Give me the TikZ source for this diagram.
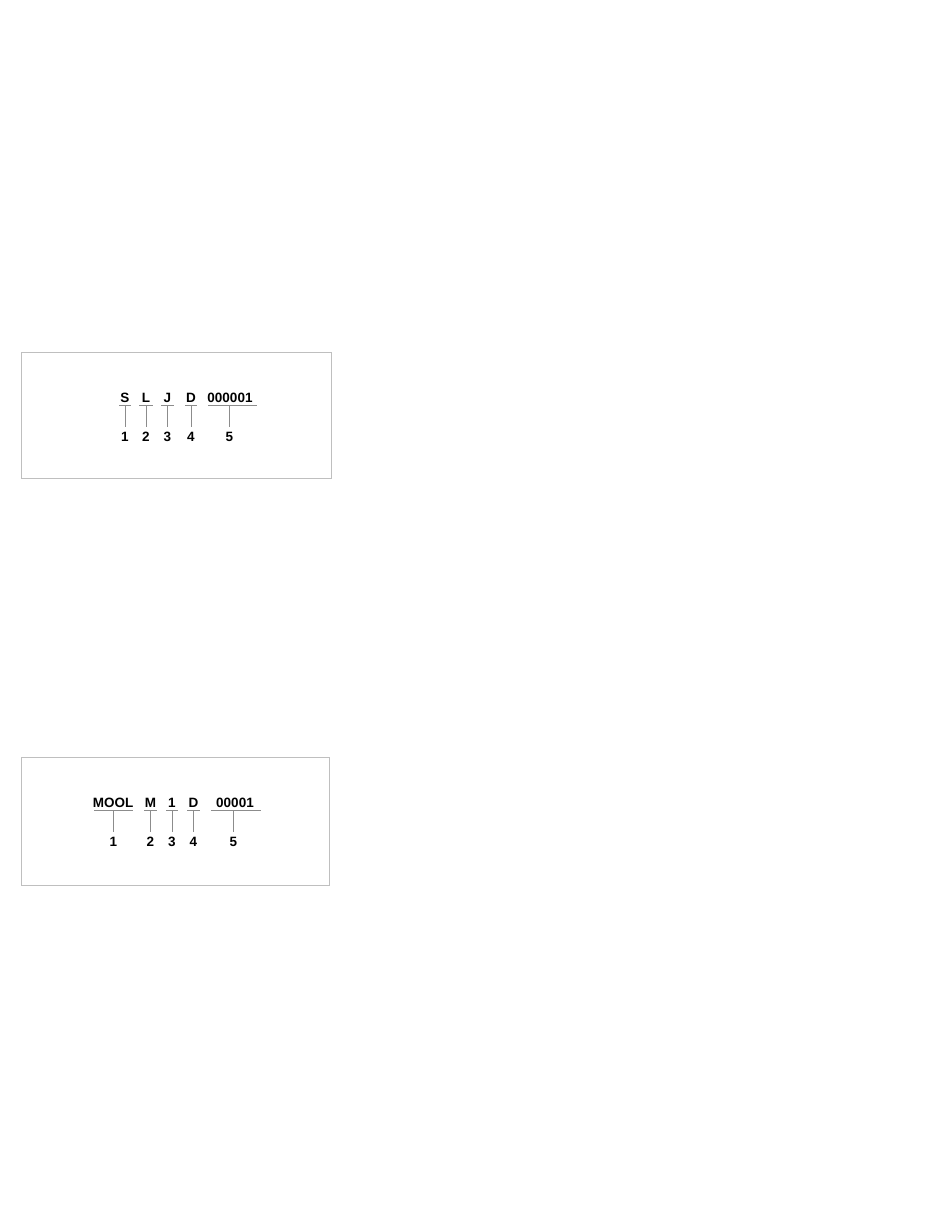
\documentclass[tikz,border=0pt]{standalone}
\usepackage{fontspec}
\setmainfont{Liberation Sans}
\begin{document}
\begin{tikzpicture}[x=1pt,y=-1pt,
  lbl/.style={font=\fontsize{13.5}{13.5}\selectfont\bfseries, inner sep=0pt, anchor=base},
  frame/.style={draw=black!25, line width=0.8pt},
  rule/.style={draw=black!45, line width=0.9pt}]
\useasboundingbox (0,0) rectangle (935,1210);
% box 1
\draw[frame] (21,352) rectangle (331,478);
\node[lbl] (s) at (125,402) {S};
\node[lbl] (l) at (146,402) {L};
\node[lbl] (j) at (167.5,402) {J};
\node[lbl] (d) at (191,402) {D};
\node[lbl] (n) at (230,402) {000001};
\foreach \t/\a/\b/\x/\k in {a1/119/131/125/1, a2/139/153/146/2, a3/161/174/167.5/3, a4/185/197/191/4, a5/208/257/229.5/5}{
  \node[lbl] (\t) at (\x,441) {\k};
  \draw[rule] (\a,405) -- (\b,405);
  \draw[rule] (\t |- 0,405) -- (\t |- 0,427);
}
% box 2
\draw[frame] (21,757) rectangle (329,885);
\node[lbl] (mool) at (113,807) {MOOL};
\node[lbl] (m) at (150.5,807) {M};
\node[lbl] (one) at (172,807) {1};
\node[lbl] (d2) at (193.5,807) {D};
\node[lbl] (n2) at (235,807) {00001};
\foreach \t/\a/\b/\x/\k in {b1/94/133/113.5/1, b2/144/157/150.5/2, b3/166/178/172/3, b4/187/200/193.5/4, b5/211/261/233.5/5}{
  \node[lbl] (\t) at (\x,846) {\k};
  \draw[rule] (\a,810) -- (\b,810);
  \draw[rule] (\t |- 0,810) -- (\t |- 0,832);
}
\end{tikzpicture}
\end{document}
